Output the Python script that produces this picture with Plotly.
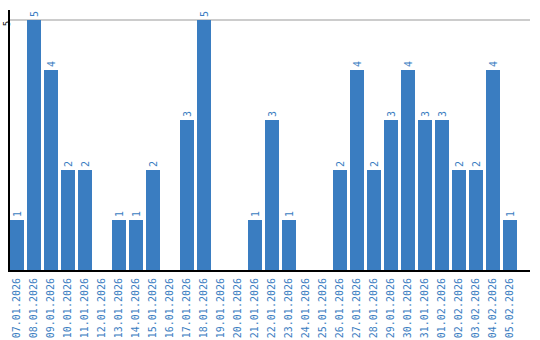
import plotly.graph_objects as go

dates = ["07.01.2026","08.01.2026","09.01.2026","10.01.2026","11.01.2026","12.01.2026",
         "13.01.2026","14.01.2026","15.01.2026","16.01.2026","17.01.2026","18.01.2026",
         "19.01.2026","20.01.2026","21.01.2026","22.01.2026","23.01.2026","24.01.2026",
         "25.01.2026","26.01.2026","27.01.2026","28.01.2026","29.01.2026","30.01.2026",
         "31.01.2026","01.02.2026","02.02.2026","03.02.2026","04.02.2026","05.02.2026"]
values = [1,5,4,2,2,0,1,1,2,0,3,5,0,0,1,3,1,0,0,2,4,2,3,4,3,3,2,2,4,1]

xs = list(range(len(dates)))
labels = [str(v) if v else "" for v in values]
blue = "#3a7dc1"

fig = go.Figure(go.Bar(
    x=xs, y=values, text=labels, textposition="outside", textangle=-90,
    textfont=dict(family="DejaVu Sans Mono", size=10, color=blue),
    marker=dict(color=blue, line=dict(width=0)), cliponaxis=False,
))
fig.update_layout(
    width=540, height=340, margin=dict(l=10, r=10, t=10, b=70, autoexpand=False),
    paper_bgcolor="white", plot_bgcolor="white", bargap=3/17, showlegend=False,
)
fig.update_xaxes(
    range=[-7/17, (520-7)/17], tickvals=xs, ticktext=dates, tickangle=-90,
    tickfont=dict(family="DejaVu Sans Mono", size=10, color=blue),
    showline=True, linecolor="black", linewidth=2, showgrid=False, ticks="",
    zeroline=False, automargin=False, ticklabelstandoff=2,
)
fig.update_yaxes(
    range=[0, 5.2], tickvals=[5], ticktext=["5"], tickangle=-90,
    tickfont=dict(family="DejaVu Sans Mono", size=9, color="black"),
    showline=True, linecolor="black", linewidth=2, showgrid=True,
    gridcolor="#cccccc", gridwidth=2, zeroline=False, ticks="", automargin=False,
    ticklabelstandoff=-6, ticklabelshift=5,
)
fig.write_html("out.html")
